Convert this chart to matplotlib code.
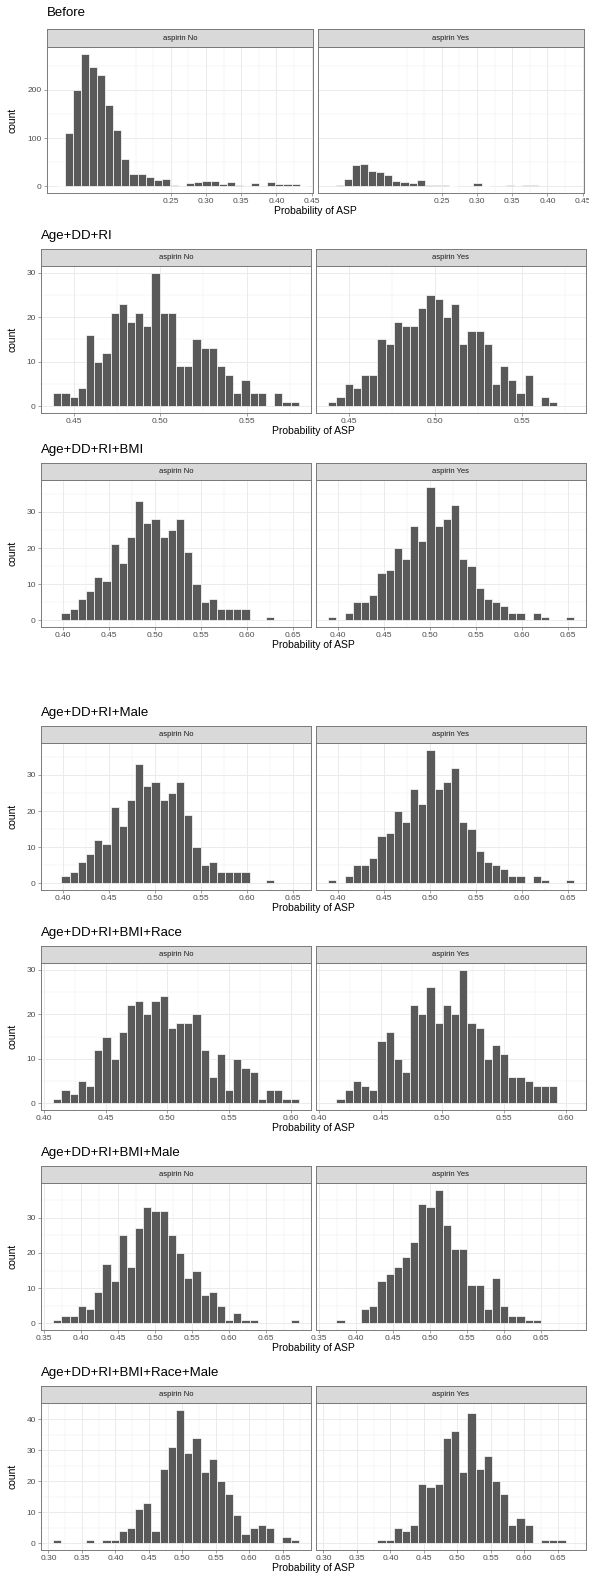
import numpy as np
import matplotlib.pyplot as plt

plt.rcParams['font.family'] = ['Liberation Sans', 'DejaVu Sans']

# histogram bins: (first edge, bin width) and counts per facet
before_bins = (0.0875, 0.01152)
before_no = [1, 110, 200, 275, 248, 230, 168, 117, 57, 25, 25, 20, 14, 15, 2, 0,
             8, 9, 12, 12, 4, 9, 2, 0, 7, 0, 10, 5, 4, 4, 1]
before_yes = [0, 2, 16, 45, 46, 32, 30, 23, 12, 9, 6, 14, 3, 3, 3, 1,
              0, 0, 6, 1, 0, 0, 2, 0, 2, 2, 0, 0, 0, 0, 0]

adr_bins = (0.438, 0.00474)
adr_no = [3, 3, 2, 4, 16, 10, 12, 21, 23, 19, 21, 18, 30, 21, 21, 9, 9, 15, 13, 13,
          9, 7, 3, 6, 3, 3, 0, 3, 1, 1]
adr_yes = [1, 2, 5, 4, 7, 7, 15, 14, 19, 18, 18, 22, 25, 24, 20, 23, 14, 17, 17, 14,
           5, 9, 6, 3, 7, 0, 2, 1, 0, 0]

bmi_bins = (0.3895, 0.00888)
bmi_no = [0, 2, 3, 6, 8, 12, 11, 21, 16, 23, 33, 27, 28, 23, 25, 28, 19, 10, 5, 6,
          3, 3, 3, 3, 0, 0, 1, 0, 0, 0]
bmi_yes = [1, 0, 2, 5, 5, 7, 13, 14, 20, 17, 26, 22, 37, 26, 28, 32, 17, 15, 9, 6,
           5, 4, 2, 2, 0, 2, 1, 0, 0, 1]

male_bins = (0.3895, 0.00888)
male_no = [0, 2, 3, 6, 8, 12, 11, 21, 16, 23, 33, 27, 28, 23, 25, 28, 19, 10, 5, 6,
           3, 3, 3, 3, 0, 0, 1, 0, 0, 0]
male_yes = [1, 0, 2, 5, 5, 7, 13, 14, 20, 17, 26, 22, 37, 26, 28, 32, 17, 15, 9, 6,
            5, 4, 2, 2, 0, 2, 1, 0, 0, 1]

race_bins = (0.4075, 0.00663)
race_no = [1, 3, 2, 5, 4, 12, 15, 10, 16, 22, 23, 20, 23, 24, 17, 18, 18, 20, 12, 6,
           11, 3, 10, 8, 7, 1, 3, 3, 1, 1]
race_yes = [0, 1, 3, 5, 4, 3, 14, 16, 10, 7, 22, 20, 26, 18, 22, 20, 30, 18, 17, 10,
            13, 11, 6, 6, 5, 4, 4, 4, 0, 0]

bmimale_bins = (0.3626, 0.01106)
bmimale_no = [1, 2, 2, 5, 4, 9, 17, 12, 25, 16, 27, 33, 32, 32, 25, 20, 13, 15, 8, 9,
              5, 1, 3, 1, 1, 0, 0, 0, 0, 1]
bmimale_yes = [0, 1, 0, 0, 4, 5, 12, 14, 16, 19, 23, 34, 33, 38, 28, 21, 21, 11, 11, 4,
               13, 5, 2, 2, 1, 1, 0, 0, 0, 0]

full_bins = (0.3072, 0.01222)
full_no = [1, 0, 0, 0, 1, 0, 1, 1, 4, 5, 11, 13, 4, 24, 31, 43, 29, 34, 23, 27,
           20, 16, 9, 3, 5, 6, 5, 0, 2, 1]
full_yes = [0, 0, 0, 0, 0, 0, 1, 1, 5, 4, 6, 19, 18, 19, 34, 36, 23, 42, 24, 28,
            20, 16, 6, 8, 6, 0, 1, 1, 1, 0]

titles = ["Before", "Age+DD+RI", "Age+DD+RI+BMI", "Age+DD+RI+Male",
          "Age+DD+RI+BMI+Race", "Age+DD+RI+BMI+Male", "Age+DD+RI+BMI+Race+Male"]
facets = ["aspirin No", "aspirin Yes"]
x_breaks = [[0.25, 0.30, 0.35, 0.40, 0.45],
            [0.45, 0.50, 0.55],
            [0.40, 0.45, 0.50, 0.55, 0.60, 0.65],
            [0.40, 0.45, 0.50, 0.55, 0.60, 0.65],
            [0.40, 0.45, 0.50, 0.55, 0.60],
            [0.35, 0.40, 0.45, 0.50, 0.55, 0.60, 0.65],
            [0.30, 0.35, 0.40, 0.45, 0.50, 0.55, 0.60, 0.65]]
y_breaks = [[0, 100, 200], [0, 10, 20, 30], [0, 10, 20, 30], [0, 10, 20, 30],
            [0, 10, 20, 30], [0, 10, 20, 30], [0, 10, 20, 30, 40]]

rows = [(before_bins, before_no, before_yes), (adr_bins, adr_no, adr_yes),
        (bmi_bins, bmi_no, bmi_yes), (male_bins, male_no, male_yes),
        (race_bins, race_no, race_yes), (bmimale_bins, bmimale_no, bmimale_yes),
        (full_bins, full_no, full_yes)]

W, H = 589, 1579
fig = plt.figure(figsize=(W / 100, H / 100), dpi=100)

row_tops = [0, 223, 437, 700, 920, 1140, 1360]
GRID = '#EBEBEB'
BORDER = '#7A7A7A'


def px_axes(x0, y0, x1, y1):
    return fig.add_axes([x0 / W, 1 - y1 / H, (x1 - x0) / W, (y1 - y0) / H])


def minor_breaks(major, lim):
    step = major[1] - major[0]
    ext = [major[0] - step] + list(major) + [major[-1] + step]
    out = []
    for a, b in zip(ext[:-1], ext[1:]):
        out += [a, (a + b) / 2]
    out.append(ext[-1])
    return [m for m in out if lim[0] <= m <= lim[1]]


for r, (bins, no, yes) in enumerate(rows):
    top = row_tops[r]
    start, width = bins
    n = len(no)
    edges = start + width * np.arange(n)
    if r == 0:
        xlim = (0.074, 0.452)
        lefts = [(47, 313), (318, 584)]
        s0, s1, p1 = 29, 47, 193
    else:
        span = n * width
        xlim = (start - 0.05 * span, start + 1.05 * span)
        lefts = [(41, 311), (316, 586)]
        s0, s1, p1 = 26, 43, 190
    ymax = max(max(no), max(yes))
    ylim = (-0.05 * ymax, 1.05 * ymax)

    fig.text(lefts[0][0] / W, 1 - (top + 13) / H, titles[r], fontsize=9.5,
             ha='left', va='center', color='black')

    for j, counts in enumerate([no, yes]):
        x0, x1 = lefts[j]
        ax = px_axes(x0, top + s1, x1, top + p1)
        counts = np.array(counts)
        m = counts > 0
        ax.bar(edges[m] + width / 2, counts[m], width=width, color='#595959',
               edgecolor='white', linewidth=0.5, zorder=3)
        ax.set_xlim(xlim)
        ax.set_ylim(ylim)
        ax.set_xticks(x_breaks[r])
        ax.set_xticklabels(['%.2f' % v for v in x_breaks[r]])
        ax.set_xticks(minor_breaks(x_breaks[r], xlim), minor=True)
        ax.set_yticks(y_breaks[r])
        ax.set_yticks(minor_breaks(y_breaks[r], ylim), minor=True)
        ax.grid(which='major', color=GRID, linewidth=0.7, zorder=0)
        ax.grid(which='minor', color=GRID, linewidth=0.35, zorder=0)
        ax.set_axisbelow(True)
        ax.tick_params(which='major', length=2.2, width=0.5, color=BORDER,
                       labelsize=6, labelcolor='#4D4D4D', pad=1.5)
        ax.tick_params(which='minor', length=0)
        if j == 1:
            ax.tick_params(axis='y', left=False, labelleft=False)
        for s in ax.spines.values():
            s.set_color(BORDER)
            s.set_linewidth(0.7)

        st = px_axes(x0, top + s0, x1, top + s1)
        st.set_facecolor('#D9D9D9')
        st.set_xticks([])
        st.set_yticks([])
        for s in st.spines.values():
            s.set_color(BORDER)
            s.set_linewidth(0.7)
        st.text(0.5, 0.5, facets[j], fontsize=5.5, color='#1A1A1A',
                ha='center', va='center', transform=st.transAxes)

    fig.text(((lefts[0][0] + lefts[1][1]) / 2) / W, 1 - (top + p1 + 18) / H,
             "Probability of ASP", fontsize=7.5, ha='center', va='center')
    fig.text(12 / W, 1 - (top + (s1 + p1) / 2) / H, "count", fontsize=7.5,
             rotation=90, ha='center', va='center')

fig.savefig('out.png', dpi=100)
